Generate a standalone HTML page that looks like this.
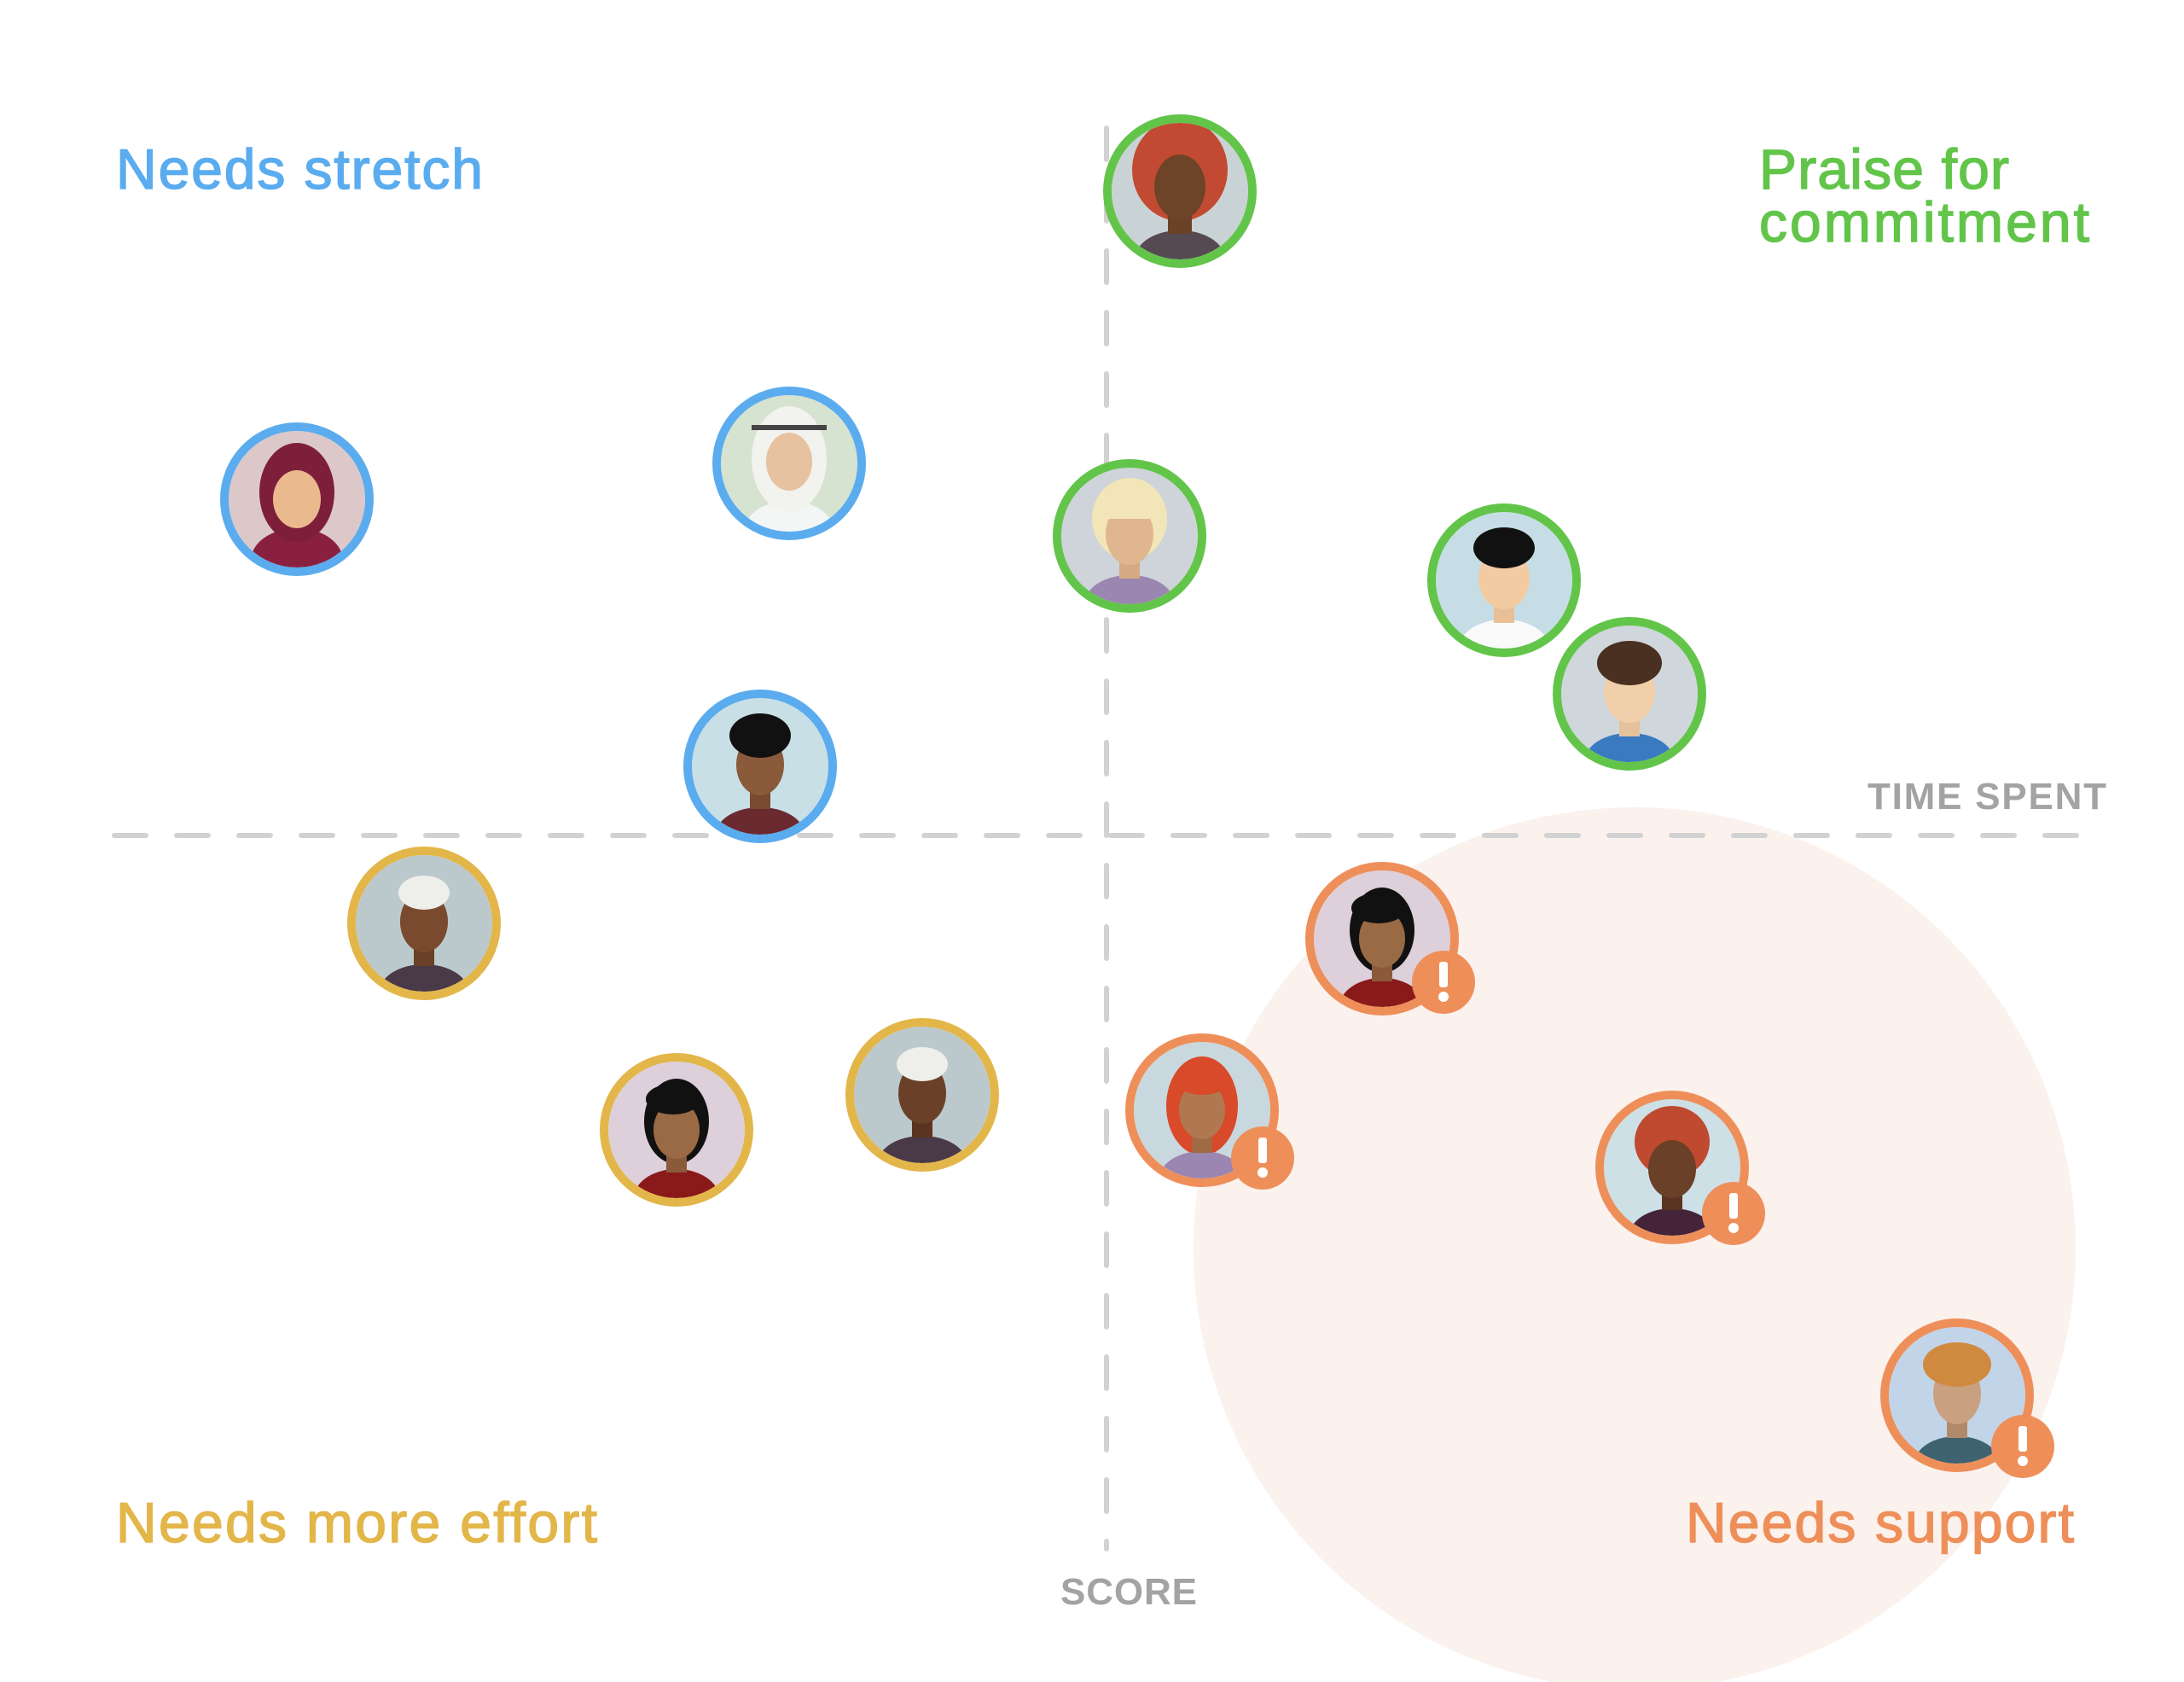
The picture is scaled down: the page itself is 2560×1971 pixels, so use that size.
<!DOCTYPE html>
<html><head><meta charset="utf-8"><style>
html,body{margin:0;padding:0;background:#fff;}
svg{display:block;}
text{font-family:"Liberation Sans",sans-serif;}
</style></head><body>
<svg width="2560" height="1971" viewBox="0 0 2560 1971" xmlns="http://www.w3.org/2000/svg">
<defs>
<clipPath id="cp"><circle cx="0" cy="0" r="80"/></clipPath>
<g id="badge"><circle r="37" fill="#ee8f5a"/><rect x="-5" y="-24" width="10" height="30" rx="3" fill="#fff"/><circle cx="0" cy="17" r="6" fill="#fff"/></g>
</defs>
<circle cx="1916" cy="1463" r="517" fill="#fbf1ed"/>
<line x1="131" y1="979" x2="2469" y2="979" stroke="#d2d2d2" stroke-width="6" stroke-linecap="round" stroke-dasharray="37 36" stroke-dashoffset="-3"/>
<line x1="1297" y1="150" x2="1297" y2="1815" stroke="#d2d2d2" stroke-width="6" stroke-linecap="round" stroke-dasharray="37 35" stroke-dashoffset="0"/>

<g stroke-width="1.5">
<text x="136" y="221" font-size="66" fill="#5aacef" stroke="#5aacef" textLength="430" lengthAdjust="spacing">Needs stretch</text>
<text x="2062" y="221" font-size="66" fill="#62c54a" stroke="#62c54a" textLength="293" lengthAdjust="spacing">Praise for</text>
<text x="2062" y="283" font-size="66" fill="#62c54a" stroke="#62c54a" textLength="387" lengthAdjust="spacing">commitment</text>
<text x="136" y="1807" font-size="66" fill="#e3b64a" stroke="#e3b64a" textLength="564" lengthAdjust="spacing">Needs more effort</text>
<text x="1976" y="1807" font-size="66" fill="#ee8f5a" stroke="#ee8f5a" textLength="455" lengthAdjust="spacing">Needs support</text>
</g>
<text x="2189" y="948" font-size="44" font-weight="bold" fill="#a3a3a3" textLength="280" lengthAdjust="spacing">TIME SPENT</text>
<text x="1243" y="1880" font-size="44" font-weight="bold" fill="#a3a3a3" textLength="160" lengthAdjust="spacing">SCORE</text>

<g transform="translate(1383,224)"><g clip-path="url(#cp)"><rect x="-90" y="-90" width="180" height="180" fill="#c9d3d6"/><ellipse cx="0" cy="-25" rx="56" ry="60" fill="#c24a32"/><ellipse cx="0" cy="78" rx="52" ry="32" fill="#564a52"/><rect x="-14" y="20" width="28" height="30" fill="#6b4228"/><ellipse cx="0" cy="-5" rx="30" ry="38" fill="#6e4428"/></g><circle r="85" fill="none" stroke="#62c54a" stroke-width="10"/></g>
<g transform="translate(348,585)"><g clip-path="url(#cp)"><rect x="-90" y="-90" width="180" height="180" fill="#dcc8c8"/><ellipse cx="0" cy="72" rx="54" ry="38" fill="#8a2040"/><ellipse cx="0" cy="-8" rx="44" ry="58" fill="#7d1f3a"/><ellipse cx="0" cy="0" rx="28" ry="34" fill="#eab98e"/></g><circle r="85" fill="none" stroke="#5aacef" stroke-width="10"/></g>
<g transform="translate(925,543)"><g clip-path="url(#cp)"><rect x="-90" y="-90" width="180" height="180" fill="#d5e3d0"/><ellipse cx="0" cy="78" rx="52" ry="34" fill="#f4f6f6"/><ellipse cx="0" cy="-5" rx="44" ry="62" fill="#f2f2ee"/><ellipse cx="0" cy="-2" rx="27" ry="34" fill="#e6c2a0"/><rect x="-44" y="-45" width="88" height="6" fill="#444"/></g><circle r="85" fill="none" stroke="#5aacef" stroke-width="10"/></g>
<g transform="translate(1324,628)"><g clip-path="url(#cp)"><rect x="-90" y="-90" width="180" height="180" fill="#cfd3da"/><ellipse cx="0" cy="-20" rx="44" ry="48" fill="#f2e6b8"/><ellipse cx="0" cy="78" rx="52" ry="32" fill="#9a86b0"/><rect x="-12" y="20" width="24" height="30" fill="#d4ab85"/><ellipse cx="0" cy="-2" rx="28" ry="36" fill="#e0b68e"/><rect x="-34" y="-40" width="68" height="20" fill="#f2e6b8"/></g><circle r="85" fill="none" stroke="#62c54a" stroke-width="10"/></g>
<g transform="translate(1763,680)"><g clip-path="url(#cp)"><rect x="-90" y="-90" width="180" height="180" fill="#c6dde6"/><ellipse cx="0" cy="78" rx="52" ry="32" fill="#fafafa"/><rect x="-12" y="20" width="24" height="30" fill="#e8bf96"/><ellipse cx="0" cy="-2" rx="30" ry="36" fill="#f2cba2"/><ellipse cx="0" cy="-38" rx="36" ry="24" fill="#111"/></g><circle r="85" fill="none" stroke="#62c54a" stroke-width="10"/></g>
<g transform="translate(1910,813)"><g clip-path="url(#cp)"><rect x="-90" y="-90" width="180" height="180" fill="#cfd6dc"/><ellipse cx="0" cy="78" rx="52" ry="32" fill="#3a7ac0"/><rect x="-12" y="20" width="24" height="30" fill="#e6c29c"/><ellipse cx="0" cy="-2" rx="30" ry="36" fill="#f0cfaa"/><ellipse cx="0" cy="-36" rx="38" ry="26" fill="#4a3020"/></g><circle r="85" fill="none" stroke="#62c54a" stroke-width="10"/></g>
<g transform="translate(891,898)"><g clip-path="url(#cp)"><rect x="-90" y="-90" width="180" height="180" fill="#c9dfe6"/><ellipse cx="0" cy="80" rx="52" ry="32" fill="#6a2a30"/><rect x="-12" y="20" width="24" height="30" fill="#7a4a30"/><ellipse cx="0" cy="-2" rx="28" ry="36" fill="#8a5a3a"/><ellipse cx="0" cy="-36" rx="36" ry="26" fill="#111"/></g><circle r="85" fill="none" stroke="#5aacef" stroke-width="10"/></g>
<g transform="translate(497,1082)"><g clip-path="url(#cp)"><rect x="-90" y="-90" width="180" height="180" fill="#bcc9cc"/><ellipse cx="0" cy="80" rx="52" ry="32" fill="#4a3a48"/><rect x="-12" y="20" width="24" height="30" fill="#6a4028"/><ellipse cx="0" cy="-2" rx="28" ry="36" fill="#7a4a2e"/><ellipse cx="0" cy="-36" rx="30" ry="20" fill="#eeeeea"/></g><circle r="85" fill="none" stroke="#e3b64a" stroke-width="10"/></g>
<g transform="translate(793,1324)"><g clip-path="url(#cp)"><rect x="-90" y="-90" width="180" height="180" fill="#ddd0da"/><ellipse cx="0" cy="-10" rx="38" ry="50" fill="#111"/><ellipse cx="0" cy="80" rx="50" ry="34" fill="#8a1a1a"/><rect x="-12" y="20" width="24" height="30" fill="#8a5a3a"/><ellipse cx="0" cy="0" rx="27" ry="34" fill="#9a6a45"/><ellipse cx="-4" cy="-36" rx="32" ry="18" fill="#111"/></g><circle r="85" fill="none" stroke="#e3b64a" stroke-width="10"/></g>
<g transform="translate(1081,1283)"><g clip-path="url(#cp)"><rect x="-90" y="-90" width="180" height="180" fill="#bcc9cc"/><ellipse cx="0" cy="80" rx="52" ry="32" fill="#4a3a48"/><rect x="-12" y="20" width="24" height="30" fill="#5a3420"/><ellipse cx="0" cy="-2" rx="28" ry="36" fill="#6a4028"/><ellipse cx="0" cy="-36" rx="30" ry="20" fill="#eeeeea"/></g><circle r="85" fill="none" stroke="#e3b64a" stroke-width="10"/></g>
<g transform="translate(1620,1100)"><g clip-path="url(#cp)"><rect x="-90" y="-90" width="180" height="180" fill="#ddd0da"/><ellipse cx="0" cy="-10" rx="38" ry="50" fill="#111"/><ellipse cx="0" cy="80" rx="50" ry="34" fill="#8a1a1a"/><rect x="-12" y="20" width="24" height="30" fill="#8a5a3a"/><ellipse cx="0" cy="0" rx="27" ry="34" fill="#9a6a45"/><ellipse cx="-4" cy="-36" rx="32" ry="18" fill="#111"/></g><circle r="85" fill="none" stroke="#ee8f5a" stroke-width="10"/><use href="#badge" x="72" y="51"/></g>
<g transform="translate(1409,1301)"><g clip-path="url(#cp)"><rect x="-90" y="-90" width="180" height="180" fill="#c9d8de"/><ellipse cx="0" cy="-5" rx="42" ry="58" fill="#d84a2a"/><ellipse cx="0" cy="80" rx="50" ry="32" fill="#9a86b0"/><rect x="-12" y="20" width="24" height="30" fill="#a06a45"/><ellipse cx="0" cy="0" rx="27" ry="34" fill="#b07850"/><ellipse cx="0" cy="-36" rx="32" ry="18" fill="#d84a2a"/></g><circle r="85" fill="none" stroke="#ee8f5a" stroke-width="10"/><use href="#badge" x="71" y="56"/></g>
<g transform="translate(1960,1368)"><g clip-path="url(#cp)"><rect x="-90" y="-90" width="180" height="180" fill="#cde0e6"/><ellipse cx="0" cy="80" rx="50" ry="32" fill="#45243a"/><rect x="-12" y="20" width="24" height="30" fill="#5a3420"/><ellipse cx="0" cy="-30" rx="44" ry="42" fill="#c04a30"/><ellipse cx="0" cy="2" rx="28" ry="34" fill="#6a4028"/></g><circle r="85" fill="none" stroke="#ee8f5a" stroke-width="10"/><use href="#badge" x="72" y="54"/></g>
<g transform="translate(2294,1635)"><g clip-path="url(#cp)"><rect x="-90" y="-90" width="180" height="180" fill="#c2d5e8"/><ellipse cx="0" cy="80" rx="50" ry="32" fill="#3e6270"/><rect x="-12" y="20" width="24" height="30" fill="#b08a6a"/><ellipse cx="0" cy="-2" rx="28" ry="36" fill="#c9a080"/><ellipse cx="0" cy="-36" rx="40" ry="26" fill="#d08a40"/></g><circle r="85" fill="none" stroke="#ee8f5a" stroke-width="10"/><use href="#badge" x="77" y="60"/></g>
</svg>
</body></html>
